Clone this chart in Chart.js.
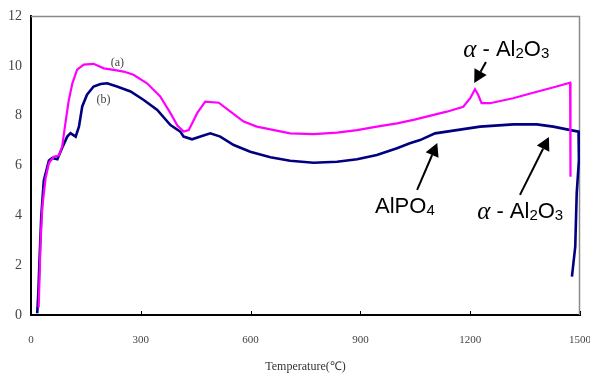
<!DOCTYPE html>
<html>
<head>
<meta charset="utf-8">
<script src="https://cdn.jsdelivr.net/npm/chart.js@4/dist/chart.umd.min.js"></script>
<style>
  html, body { margin: 0; padding: 0; background: #fff; }
  #wrap { width: 590px; height: 376px; }
</style>
</head>
<body>
<div id="wrap"><canvas id="dtaChart" width="590" height="376"></canvas></div>
<script>
// values: temperature (C) and signal
const xTicks = [0, 300, 600, 900, 1200, 1500];
const yTicks = [0, 2, 4, 6, 8, 10, 12];

const tempA = [21, 26, 31, 40, 49, 62, 76, 85, 94, 103, 113, 126, 144, 171, 199, 226, 253, 280, 317, 353, 381, 400, 417, 431, 454, 476, 513, 545, 581, 617, 654, 708, 772, 836, 891, 945, 1000, 1045, 1100, 1136, 1181, 1200, 1213, 1222, 1231, 1254, 1317, 1382, 1436, 1473, 1474];
const valA  = [0.3, 2.9, 4.35, 5.5, 6.1, 6.35, 6.4, 6.75, 7.7, 8.6, 9.3, 9.85, 10.05, 10.08, 9.9, 9.84, 9.77, 9.64, 9.3, 8.77, 8.1, 7.6, 7.36, 7.42, 8.1, 8.56, 8.52, 8.16, 7.76, 7.56, 7.45, 7.29, 7.26, 7.32, 7.42, 7.56, 7.69, 7.83, 8.03, 8.16, 8.36, 8.7, 9.06, 8.83, 8.5, 8.5, 8.7, 8.96, 9.17, 9.32, 5.55];

const tempB = [17, 20, 23, 28, 35, 49, 58, 72, 85, 99, 108, 122, 131, 140, 153, 171, 190, 208, 235, 272, 308, 345, 381, 408, 417, 440, 463, 490, 517, 554, 599, 654, 708, 772, 836, 891, 945, 1000, 1035, 1063, 1104, 1154, 1227, 1318, 1382, 1427, 1464, 1496, 1497, 1491, 1487, 1478];
const valB  = [0.07, 0.87, 2.1, 3.95, 5.4, 6.2, 6.3, 6.25, 6.7, 7.16, 7.3, 7.16, 7.56, 8.37, 8.84, 9.17, 9.27, 9.3, 9.17, 8.97, 8.63, 8.23, 7.62, 7.36, 7.16, 7.05, 7.16, 7.29, 7.16, 6.82, 6.55, 6.33, 6.19, 6.11, 6.15, 6.25, 6.42, 6.69, 6.89, 7.02, 7.29, 7.4, 7.56, 7.65, 7.65, 7.56, 7.45, 7.36, 6.22, 4.88, 2.74, 1.54];

const pairs = (xs, ys) => xs.map((x, i) => ({ x: x, y: ys[i] }));

// labels placed in data units, drawn after the chart
const SANS = '"Liberation Sans", Arial, sans-serif';
const SERIF = '"Liberation Serif", "Times New Roman", serif';
const alumina = [
  { t: '\u03b1', font: 'italic 25px ' + SERIF, dy: 0 },
  { t: ' - Al', font: '22px ' + SANS, dy: 0 },
  { t: '2', font: '15px ' + SANS, dy: 4 },
  { t: 'O', font: '22px ' + SANS, dy: 0 },
  { t: '3', font: '15px ' + SANS, dy: 4 }
];
const labels = [
  { x: 236, y: 10.11, parts: [{ t: '(a)', font: '12px ' + SERIF, dy: 0 }], align: 'center' },
  { x: 198, y: 8.63, parts: [{ t: '(b)', font: '12px ' + SERIF, dy: 0 }], align: 'center' },
  { x: 1181, y: 10.63, parts: alumina, align: 'left' },
  { x: 940, y: 4.33, parts: [{ t: 'AlPO', font: '22px ' + SANS, dy: 0 }, { t: '4', font: '15px ' + SANS, dy: 4 }], align: 'left' },
  { x: 1219, y: 4.13, parts: alumina, align: 'left' }
];
const arrows = [
  { x0: 1243, y0: 10.15, x1: 1211, y1: 9.31 },
  { x0: 1055, y0: 5.02, x1: 1110, y1: 6.9 },
  { x0: 1336, y0: 4.82, x1: 1415, y1: 7.14 }
];

const frameAndNotes = {
  id: 'frameAndNotes',
  beforeDatasetsDraw(chart) {
    const { ctx, chartArea: a, scales } = chart;
    ctx.save();
    ctx.strokeStyle = '#8a8a8a';
    ctx.lineWidth = 1.5;
    ctx.beginPath();
    ctx.moveTo(a.left, a.top + 0.5);
    ctx.lineTo(a.right - 0.5, a.top + 0.5);
    ctx.lineTo(a.right - 0.5, a.bottom);
    ctx.stroke();
    // small inward ticks on the x axis
    ctx.strokeStyle = '#000';
    ctx.lineWidth = 1;
    xTicks.forEach(v => {
      const px = Math.round(scales.x.getPixelForValue(v)) + 0.5;
      ctx.beginPath();
      ctx.moveTo(px, a.bottom);
      ctx.lineTo(px, a.bottom - 4);
      ctx.stroke();
    });
    ctx.restore();
  },
  afterDraw(chart) {
    const { ctx, scales } = chart;
    const sx = scales.x, sy = scales.y;
    ctx.save();
    ctx.fillStyle = '#000';
    ctx.textBaseline = 'middle';
    labels.forEach(l => {
      let w = 0;
      l.parts.forEach(p => { ctx.font = p.font; w += ctx.measureText(p.t).width; });
      let px = sx.getPixelForValue(l.x);
      if (l.align === 'center') px -= w / 2;
      const py = sy.getPixelForValue(l.y);
      ctx.fillStyle = l.parts.length === 1 ? '#444' : '#000';
      l.parts.forEach(p => {
        ctx.font = p.font;
        ctx.fillText(p.t, px, py + p.dy);
        px += ctx.measureText(p.t).width;
      });
    });
    ctx.strokeStyle = '#000';
    ctx.fillStyle = '#000';
    ctx.lineWidth = 2;
    arrows.forEach(r => {
      const x0 = sx.getPixelForValue(r.x0), y0 = sy.getPixelForValue(r.y0);
      const x1 = sx.getPixelForValue(r.x1), y1 = sy.getPixelForValue(r.y1);
      const ang = Math.atan2(y1 - y0, x1 - x0);
      const head = 13, half = 7;
      const bx = x1 - head * Math.cos(ang), by = y1 - head * Math.sin(ang);
      ctx.beginPath();
      ctx.moveTo(x0, y0);
      ctx.lineTo(bx, by);
      ctx.stroke();
      ctx.beginPath();
      ctx.moveTo(x1, y1);
      ctx.lineTo(bx + half * Math.sin(ang), by - half * Math.cos(ang));
      ctx.lineTo(bx - half * Math.sin(ang), by + half * Math.cos(ang));
      ctx.closePath();
      ctx.fill();
    });
    ctx.restore();
  }
};

new Chart(document.getElementById('dtaChart').getContext('2d'), {
  type: 'scatter',
  data: {
    datasets: [
      {
        label: '(a)',
        data: pairs(tempA, valA),
        showLine: true,
        borderColor: '#ff00ff',
        borderWidth: 2.2,
        pointRadius: 0,
        tension: 0
      },
      {
        label: '(b)',
        data: pairs(tempB, valB),
        showLine: true,
        borderColor: '#000080',
        borderWidth: 2.6,
        pointRadius: 0,
        tension: 0
      }
    ]
  },
  options: {
    responsive: false,
    animation: false,
    layout: { padding: { left: 0, right: 10, top: 16, bottom: 0 } },
    plugins: { legend: { display: false }, tooltip: { enabled: false } },
    scales: {
      x: {
        type: 'linear',
        min: 0,
        max: 1500,
        afterBuildTicks: s => { s.ticks = xTicks.map(v => ({ value: v })); },
        afterFit: s => { s.height = 61; s.paddingLeft = 0; s.paddingRight = 0; },
        grid: { drawOnChartArea: false, drawTicks: false },
        border: { color: '#000', width: 2 },
        ticks: {
          padding: 19,
          color: '#444',
          font: { family: SERIF, size: 11 },
          callback: v => String(v)
        },
        title: {
          display: true,
          text: 'Temperature(\u2103)',
          color: '#333',
          font: { family: SERIF, size: 12 },
          padding: { top: 0, bottom: 2 }
        }
      },
      y: {
        min: 0,
        max: 12,
        afterBuildTicks: s => { s.ticks = yTicks.map(v => ({ value: v })); },
        afterFit: s => { s.width = 31; s.paddingTop = 0; s.paddingBottom = 0; },
        grid: { drawOnChartArea: false, drawTicks: false },
        border: { color: '#000', width: 2 },
        ticks: { padding: 9, color: '#444', font: { family: SERIF, size: 14 } }
      }
    }
  },
  plugins: [frameAndNotes]
});
</script>
</body>
</html>
